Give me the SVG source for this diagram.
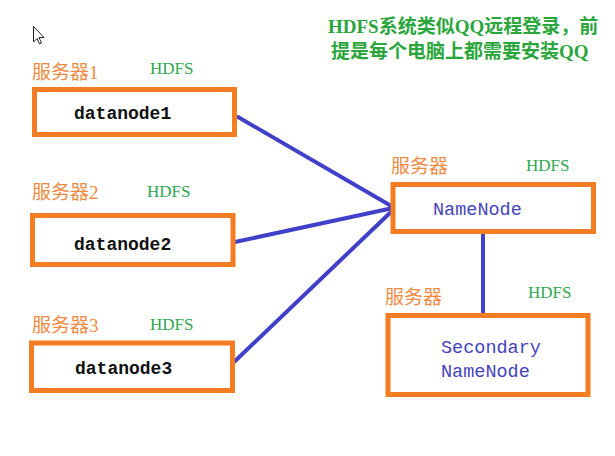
<svg xmlns="http://www.w3.org/2000/svg" width="615" height="456" viewBox="0 0 615 456">
<style>
.box{fill:#fff;stroke:#f47c22;stroke-width:5}
.srv{font-family:"Liberation Serif","Noto Sans CJK SC",serif;font-size:19px;fill:#f08a40}
.hdfs{font-family:"Liberation Serif",serif;font-size:17px;fill:#2fa84f}
.dn{font-family:"Liberation Mono",monospace;font-size:18px;fill:#111;font-weight:bold}
.nn{font-family:"Liberation Mono",monospace;font-size:18.5px;fill:#4444bb}
.note{font-family:"Liberation Serif","Noto Sans CJK SC",serif;font-size:19px;fill:#2aa63c;font-weight:bold}
.conn{stroke:#4040c8;stroke-width:4;fill:none;stroke-linecap:round}
</style>
<rect width="615" height="456" fill="#fff"/>
<path d="M33.5,26.5 L33.5,42 L37,38.5 L39.5,44 L41.5,43 L39,37.5 L44,37.5 Z" fill="#fff" stroke="#222" stroke-width="1"/>
<text class="note" x="328" y="33">HDFS系统类似QQ远程登录，前</text>
<text class="note" x="331" y="58">提是每个电脑上都需要安装QQ</text>
<g id="connectors">
<line class="conn" x1="238" y1="117" x2="393" y2="207"/>
<line class="conn" x1="235" y1="242" x2="393" y2="208"/>
<line class="conn" x1="233" y1="363" x2="393" y2="210"/>
<line class="conn" x1="483" y1="232" x2="483" y2="315"/>
</g>
<g id="datanode1">
<text class="srv" x="32" y="79">服务器1</text>
<text class="hdfs" x="150" y="74">HDFS</text>
<rect class="box" x="34.5" y="89.5" width="200" height="45"/>
<text class="dn" x="74" y="119">datanode1</text>
</g>
<g id="datanode2">
<text class="srv" x="32" y="199">服务器2</text>
<text class="hdfs" x="147" y="197">HDFS</text>
<rect class="box" x="32.5" y="215.5" width="200.5" height="49"/>
<text class="dn" x="74" y="250">datanode2</text>
</g>
<g id="datanode3">
<text class="srv" x="32" y="332">服务器3</text>
<text class="hdfs" x="150" y="330">HDFS</text>
<rect class="box" x="31.5" y="343" width="201" height="47.5"/>
<text class="dn" x="75" y="374">datanode3</text>
</g>
<g id="namenode">
<text class="srv" x="391" y="173">服务器</text>
<text class="hdfs" x="526" y="171">HDFS</text>
<rect class="box" x="393" y="184.5" width="200.5" height="47"/>
<text class="nn" x="433" y="215">NameNode</text>
</g>
<g id="secondary">
<text class="srv" x="385" y="304">服务器</text>
<text class="hdfs" x="528" y="298">HDFS</text>
<rect class="box" x="388" y="315.5" width="200" height="79"/>
<text class="nn" x="441" y="353">Secondary</text>
<text class="nn" x="441" y="377">NameNode</text>
</g>
</svg>
